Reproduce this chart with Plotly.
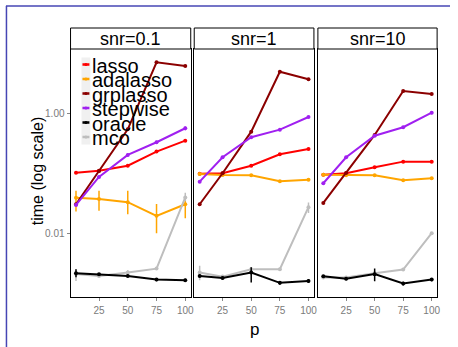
import plotly.graph_objects as go

W, H = 458, 347
FONT = "Liberation Sans, Arial, sans-serif"

p_vals = [5, 25, 50, 75, 100]
panels = ["snr=0.1", "snr=1", "snr=10"]
methods = ["lasso", "adalasso", "grplasso", "stepwise", "oracle", "mco"]
colors = {"lasso": "#ff0000", "adalasso": "#ffa500", "grplasso": "#8b0000",
          "stepwise": "#a020f0", "oracle": "#000000", "mco": "#bebebe"}

# mean time per method, per panel (snr=0.1, snr=1, snr=10)
lasso = [[0.104, 0.112, 0.136, 0.234, 0.357],
         [0.100, 0.1016, 0.136, 0.211, 0.259],
         [0.0962, 0.1016, 0.128, 0.159, 0.159]]
adalasso = [[0.0396, 0.0377, 0.0332, 0.0196, 0.0307],
            [0.0989, 0.0951, 0.094, 0.0746, 0.0793],
            [0.0962, 0.094, 0.094, 0.0775, 0.0838]]
grplasso = [[0.0307, 0.111, 0.554, 7.35, 6.37],
            [0.0307, 0.1016, 0.505, 5.11, 3.81],
            [0.0323, 0.1027, 0.445, 2.43, 2.16]]
stepwise = [[0.0299, 0.088, 0.206, 0.336, 0.576],
            [0.0734, 0.188, 0.407, 0.546, 0.891],
            [0.069, 0.188, 0.433, 0.599, 1.05]]
oracle = [[0.00215, 0.00207, 0.00193, 0.00168, 0.00164],
          [0.00193, 0.00179, 0.00220, 0.00148, 0.00159],
          [0.00191, 0.00174, 0.00207, 0.00144, 0.00168]]
mco = [[0.00209, 0.00193, 0.00220, 0.00256, 0.0399],
       [0.00220, 0.00188, 0.00250, 0.00250, 0.0274],
       [0.00181, 0.00181, 0.00215, 0.00247, 0.01004]]

# error bar half-widths (plus, minus)
lasso_ep = [[0.003, 0.003, 0.003, 0.004, 0.006], [0.003, 0.002, 0.003, 0.004, 0.005], [0.003, 0.002, 0.003, 0.003, 0.003]]
lasso_em = lasso_ep
adalasso_ep = [[0.0123, 0.0142, 0.0187, 0.0115, 0.0105], [0.003, 0.002, 0.002, 0.002, 0.002], [0.002, 0.002, 0.002, 0.002, 0.002]]
adalasso_em = [[0.0165, 0.0137, 0.0123, 0.0096, 0.0128], [0.003, 0.002, 0.002, 0.002, 0.002], [0.002, 0.002, 0.002, 0.002, 0.002]]
grplasso_ep = [[0.001, 0.002, 0.01, 0.1, 0.1], [0.001, 0.002, 0.01, 0.08, 0.08], [0.001, 0.002, 0.01, 0.05, 0.05]]
grplasso_em = grplasso_ep
stepwise_ep = [[0.001, 0.002, 0.012, 0.02, 0.04], [0.002, 0.004, 0.008, 0.012, 0.03], [0.002, 0.004, 0.008, 0.012, 0.06]]
stepwise_em = stepwise_ep
oracle_ep = [[0.00034, 0.0001, 0.0001, 0.0001, 0.0001], [0.0001, 0.0001, 0.0005, 0.0001, 0.00012], [0.0001, 0.0001, 0.0005, 0.0001, 0.0001]]
oracle_em = [[0.00031, 0.0001, 0.0001, 0.0001, 0.0001], [0.0001, 0.0001, 0.0007, 0.0001, 0.00012], [0.0001, 0.0001, 0.0005, 0.0001, 0.0001]]
mco_ep = [[0.0004, 0.0001, 0.0002, 0.0001, 0.008], [0.00065, 0.0001, 0.0002, 0.0001, 0.0055], [0.0001, 0.0001, 0.0001, 0.0001, 0.0004]]
mco_em = [[0.0005, 0.0001, 0.0002, 0.0001, 0.0054], [0.00057, 0.0001, 0.0002, 0.0001, 0.0055], [0.0001, 0.0001, 0.0001, 0.0001, 0.0004]]

data = {"lasso": (lasso, lasso_ep, lasso_em), "adalasso": (adalasso, adalasso_ep, adalasso_em),
        "grplasso": (grplasso, grplasso_ep, grplasso_em), "stepwise": (stepwise, stepwise_ep, stepwise_em),
        "oracle": (oracle, oracle_ep, oracle_em), "mco": (mco, mco_ep, mco_em)}

x_ticks = [25, 50, 75, 100]
y_ticks = [0.01, 1]
y_ticktext = ["0.01", "1.00"]

def px(x):
    return x / W

def py(y):
    return 1 - y / H

panel_px = [(71, 192), (195.5, 316), (320, 440)]
plot_top, plot_bot = 49, 296.5
strip_top = 28

fig = go.Figure()
draw_order = ["lasso", "adalasso", "grplasso", "stepwise", "mco", "oracle"]
for i in range(3):
    xa = "x" if i == 0 else f"x{i+1}"
    ya = "y" if i == 0 else f"y{i+1}"
    for m in draw_order:
        vals, ep, em = data[m]
        fig.add_trace(go.Scatter(
            x=p_vals, y=vals[i], mode="lines+markers", name=m, showlegend=False,
            xaxis=xa, yaxis=ya,
            line=dict(color=colors[m], width=2),
            marker=dict(color=colors[m], size=4),
            error_y=dict(type="data", array=ep[i], arrayminus=em[i], width=0,
                         thickness=1.5, color=colors[m]),
        ))

axis_common = dict(showline=True, mirror=True, linecolor="black", linewidth=1,
                   showgrid=False, zeroline=False, ticks="outside", ticklen=3,
                   tickcolor="#888888", tickfont=dict(family=FONT, size=10, color="#7a7a7a"))
layout = dict(width=W, height=H, margin=dict(l=0, r=0, t=0, b=0),
              paper_bgcolor="white", plot_bgcolor="white", showlegend=False)
for i, (l, r) in enumerate(panel_px):
    xk = "xaxis" if i == 0 else f"xaxis{i+1}"
    yk = "yaxis" if i == 0 else f"yaxis{i+1}"
    ya = "y" if i == 0 else f"y{i+1}"
    xa = "x" if i == 0 else f"x{i+1}"
    layout[xk] = dict(axis_common, domain=[px(l), px(r)], range=[0.25, 104.75],
                      tickvals=x_ticks, anchor=ya, ticklabelstandoff=1)
    ydict = dict(axis_common, domain=[py(plot_bot), py(plot_top)], type="log",
                 range=[-3.059, 1.089], tickvals=y_ticks, ticktext=y_ticktext, anchor=xa)
    if i > 0:
        ydict["showticklabels"] = False
        ydict["ticks"] = ""
        ydict["matches"] = "y"
    layout[yk] = ydict
fig.update_layout(**layout)

shapes = []
annotations = []
for (l, r), title in zip(panel_px, panels):
    shapes.append(dict(type="rect", xref="paper", yref="paper", x0=px(l), x1=px(r),
                       y0=py(plot_top), y1=py(strip_top), line=dict(color="black", width=1),
                       fillcolor="white"))
    annotations.append(dict(text=title, xref="paper", yref="paper", x=px((l + r) / 2),
                            y=py((strip_top + plot_top) / 2), showarrow=False,
                            xanchor="center", yanchor="middle",
                            font=dict(family=FONT, size=18, color="black")))

# legend (inside first panel)
row0, dy = 64.5, 14.5
shapes.append(dict(type="rect", xref="paper", yref="paper", x0=px(82), x1=px(91),
                   y0=py(row0 - 7 + dy * 6), y1=py(row0 - 7), line=dict(width=0),
                   fillcolor="#f0f0f0", layer="above"))
for k, m in enumerate(methods):
    yc = row0 + k * dy
    shapes.append(dict(type="line", xref="paper", yref="paper", x0=px(83), x1=px(90),
                       y0=py(yc), y1=py(yc), line=dict(color=colors[m], width=2.5), layer="above"))
    shapes.append(dict(type="circle", xref="paper", yref="paper", x0=px(85), x1=px(88),
                       y0=py(yc + 1.5), y1=py(yc - 1.5), line=dict(width=0),
                       fillcolor=colors[m], layer="above"))
    annotations.append(dict(text=m, xref="paper", yref="paper", x=px(91), y=py(yc + 1),
                            showarrow=False, xanchor="left", yanchor="middle",
                            font=dict(family=FONT, size=20, color="black")))

annotations.append(dict(text="time (log scale)", xref="paper", yref="paper", x=px(38),
                        y=py(171.5), showarrow=False, textangle=-90, xanchor="center",
                        yanchor="middle", font=dict(family=FONT, size=16, color="black")))
annotations.append(dict(text="p", xref="paper", yref="paper", x=px(256), y=py(329),
                        showarrow=False, xanchor="center", yanchor="middle",
                        font=dict(family=FONT, size=17, color="black")))

# partial blue frame
shapes.append(dict(type="line", xref="paper", yref="paper", x0=px(6), x1=px(453),
                   y0=py(6), y1=py(6), line=dict(color="#4646b4", width=1.5)))
shapes.append(dict(type="line", xref="paper", yref="paper", x0=px(6.5), x1=px(6.5),
                   y0=py(6), y1=py(347), line=dict(color="#4646b4", width=1.5)))

fig.update_layout(shapes=shapes, annotations=annotations)
fig.write_html("out.html")
